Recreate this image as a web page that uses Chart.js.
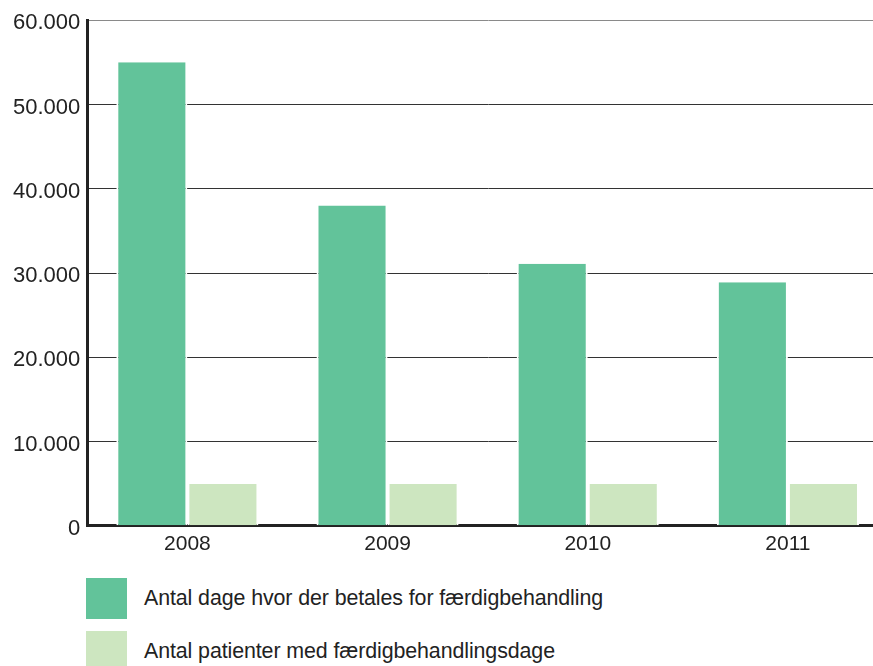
<!DOCTYPE html>
<html>
<head>
<meta charset="utf-8">
<script src="https://cdn.jsdelivr.net/npm/chart.js@4"></script>
<style>
  html, body { margin: 0; padding: 0; background: #fff; overflow: hidden; }
  #wrap { position: relative; width: 873px; height: 666px; overflow: hidden; }
  #chartBox { position: absolute; left: 0; top: 0; width: 888px; height: 571px; }
  .leg { position: absolute; left: 86px; height: 41px; display: flex; align-items: center;
         font-family: "Liberation Sans", Arial, sans-serif; font-size: 21.4px; color: #222; letter-spacing: -0.1px; }
  .leg .sw { width: 41px; height: 41px; margin-right: 17px; flex: none; }
</style>
</head>
<body>
<div id="wrap">
  <div id="chartBox"><canvas id="c"></canvas></div>
  <div id="legend"></div>
</div>
<script>
const categories = ['2008', '2009', '2010', '2011'];
const seriesNames = ['Antal dage hvor der betales for færdigbehandling', 'Antal patienter med færdigbehandlingsdage'];
const daysValues = [55000, 38000, 31100, 28900];
const patientValues = [4950, 4950, 4950, 4950];
const yTickValues = [0, 10000, 20000, 30000, 40000, 50000, 60000];
const yTickLabels = ['0', '10.000', '20.000', '30.000', '40.000', '50.000', '60.000'];
const colors = ['#62c39a', '#cde6c0'];

const FONT = '"Liberation Sans", Arial, sans-serif';
const BAR_BORDER = { top: 0, left: 2, right: 2, bottom: 0 };

new Chart(document.getElementById('c'), {
  type: 'bar',
  data: {
    labels: categories,
    datasets: [
      { label: seriesNames[0], data: daysValues, backgroundColor: colors[0], borderColor: '#ffffff', borderWidth: BAR_BORDER, borderSkipped: false },
      { label: seriesNames[1], data: patientValues, backgroundColor: colors[1], borderColor: '#ffffff', borderWidth: BAR_BORDER, borderSkipped: false }
    ]
  },
  options: {
    responsive: true,
    maintainAspectRatio: false,
    animation: false,
    layout: { padding: { left: 6, right: 0, top: 8, bottom: 8 } },
    plugins: { legend: { display: false }, tooltip: { enabled: false } },
    datasets: { bar: { categoryPercentage: 0.71, barPercentage: 1.0 } },
    scales: {
      x: {
        grid: { display: false, drawTicks: false },
        border: { display: true, color: '#222', width: 3 },
        ticks: { color: '#222', font: { family: FONT, size: 21 }, padding: 6 }
      },
      y: {
        min: 0, max: 60000,
        afterBuildTicks: (axis) => { axis.ticks = yTickValues.map(v => ({ value: v })); },
        grid: {
          drawTicks: false,
          color: (ctx) => (ctx.tick && ctx.tick.value === 60000) ? '#8a8a8a' : '#333',
          lineWidth: 1
        },
        border: { display: true, color: '#222', width: 3 },
        ticks: {
          color: '#222', font: { family: FONT, size: 22 }, padding: 7, labelOffset: 3,
          callback: (v) => { const i = yTickValues.indexOf(v); return i >= 0 ? yTickLabels[i] : ''; }
        }
      }
    }
  }
});

const legendEl = document.getElementById('legend');
const legendTops = [578, 631];
seriesNames.forEach((name, i) => {
  const row = document.createElement('div');
  row.className = 'leg';
  row.style.top = legendTops[i] + 'px';
  const sw = document.createElement('div');
  sw.className = 'sw';
  sw.style.background = colors[i];
  const tx = document.createElement('span');
  tx.textContent = name;
  row.appendChild(sw);
  row.appendChild(tx);
  legendEl.appendChild(row);
});
</script>
</body>
</html>
